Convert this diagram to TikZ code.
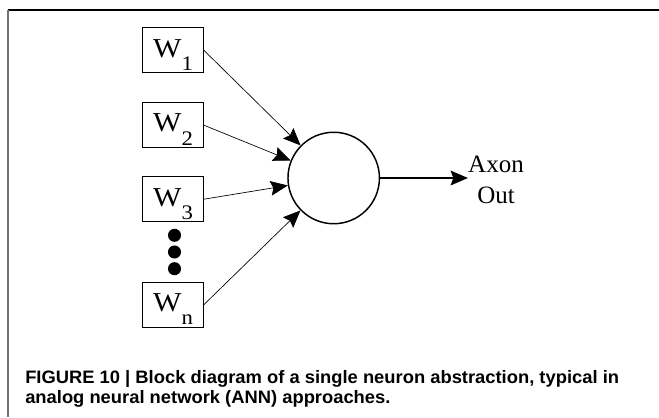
\documentclass[tikz,border=0pt]{standalone}
\usepackage{fontspec}
\usetikzlibrary{arrows.meta}
\newfontfamily\wserif{Liberation Serif}
\newfontfamily\wboxfont[FakeStretch=1.1]{Liberation Serif}
\newfontfamily\capsans[FakeStretch=1.02]{Liberation Sans}
\newcommand\wsub[1]{\raisebox{-9.8pt}{\fontsize{15.5pt}{15.5pt}\selectfont #1}}
\begin{document}
\begin{tikzpicture}[x=0.75pt,y=-0.75pt,
  wbox/.style={draw, line width=0.8pt, minimum width=45.5pt, minimum height=33.5pt,
    inner sep=0pt, font=\wboxfont\fontsize{20.5pt}{20.5pt}\selectfont,
    text height=14.5pt, text depth=4.3pt},
  neuronc/.style={circle, draw, line width=1.1pt, minimum size=68.6pt, inner sep=0pt},
  dotc/.style={circle, fill=black, minimum size=9.8pt, inner sep=0pt},
  inarrow/.style={-{Stealth[length=13pt,width=11pt,inset=2pt]}, line width=0.5pt},
  outarrow/.style={-{Stealth[length=13pt,width=11pt,inset=2pt]}, line width=1.4pt},
  axonlbl/.style={anchor=base, inner sep=0pt, font=\wserif\fontsize{18.75pt}{18.75pt}\selectfont},
  captxt/.style={anchor=base west, inner sep=0pt, font=\capsans\bfseries\fontsize{13.5pt}{13.5pt}\selectfont}
]
\useasboundingbox (0,0) rectangle (659,417);
% frame
\draw[line width=1.1pt, black] (8.3,10) -- (659,10);
\draw[line width=1.3pt, black!55] (8.3,10) -- (8.3,417);
% weight boxes
\node[wbox] (w1) at (173,50.3) {W\wsub{1}};
\node[wbox] (w2) at (173,125.2) {W\wsub{2}};
\node[wbox] (w3) at (173,199.2) {W\wsub{3}};
\node[wbox] (wn) at (173,304.7) {W\wsub{n}};
% dots
\node[dotc] (d1) at (174.5,235.3) {};
\node[dotc] (d2) at (174.5,252) {};
\node[dotc] (d3) at (174.5,268.7) {};
% neuron
\node[neuronc] (neuron) at (333.7,178) {};
% inputs
\draw[inarrow] (w1.east) -- (neuron);
\draw[inarrow] (w2.east) -- (neuron);
\draw[inarrow] (w3.east) -- (neuron);
\draw[inarrow] (wn.east) -- (neuron);
% output
\coordinate (tip) at (468,178);
\draw[outarrow] (neuron) -- (tip);
\node[axonlbl] (axon) at (496,172.3) {Axon};
\node[axonlbl] (out) at (496,203.3) {Out};
% caption
\node[captxt] (cap1) at (25,383.3) {FIGURE 10 | Block diagram of a single neuron abstraction, typical in};
\node[captxt] (cap2) at (25,403.3) {analog neural network (ANN) approaches.};
\end{tikzpicture}
\end{document}
